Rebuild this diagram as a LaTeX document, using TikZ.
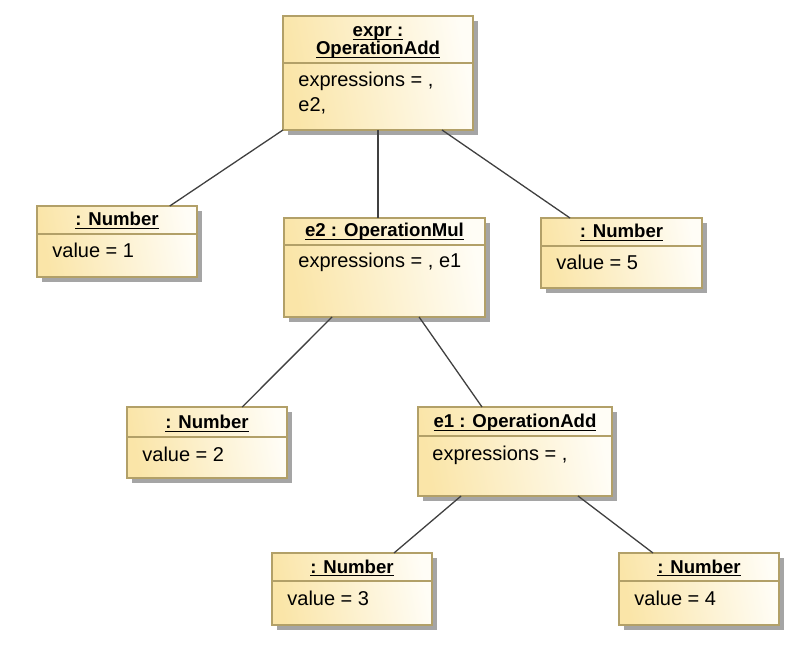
\documentclass[tikz,border=0pt]{standalone}
\usepackage{fontspec}
\setmainfont{Liberation Sans}
\usetikzlibrary{calc}

\definecolor{boxyellow}{RGB}{250,229,168}
\definecolor{boxwhite}{RGB}{255,253,246}
\definecolor{boxedge}{RGB}{178,160,104}
\definecolor{shadowgray}{RGB}{165,165,165}
\definecolor{linkgray}{RGB}{64,64,64}

\tikzset{
  objbox/.style={draw=boxedge, line width=0.6pt, left color=boxyellow,
    right color=boxwhite, shading angle=100, inner sep=0pt, outer sep=0pt},
  objshadow/.style={fill=shadowgray},
  divider/.style={draw=boxedge, line width=0.6pt},
  objtitle/.style={anchor=base, inner sep=0pt,
    font=\fontsize{9.3}{11}\selectfont\bfseries},
  objattr/.style={anchor=base west, inner sep=0pt,
    font=\fontsize{10}{12}\selectfont},
  link/.style={draw=linkgray, line width=0.65pt},
}

% underlined object name, underline kept close to the baseline
\newcommand\ul[1]{\underline{\smash{#1}}}

% object box: name, left, top, right, bottom, divider y (pixel grid)
\newcommand\objbox[6]{%
  \fill[objshadow] (#2+5,#3+5) rectangle (#4+5,#5+5);
  \node[objbox, minimum width={(#4-#2)*0.5pt}, minimum height={(#5-#3)*0.5pt}]
    (#1) at ({(#2+#4)/2},{(#3+#5)/2}) {};
  \coordinate (#1d) at (0,#6);
  \draw[divider] (#1.west |- #1d) -- (#1.east |- #1d);
}

\begin{document}
\begin{tikzpicture}[x=0.5pt, y=-0.5pt]
\useasboundingbox (0,0) rectangle (803,646);

% boxes
\objbox{expr}{283}{16}{473}{130}{63}
\objbox{numA}{37}{206}{197}{277}{234}
\objbox{mul}{284}{218}{485}{317}{245}
\objbox{numE}{541}{218}{702}{288}{246}
\objbox{numB}{127}{407}{287}{478}{437}
\objbox{add}{418}{407}{612}{496}{436}
\objbox{numC}{272}{553}{432}{625}{581}
\objbox{numD}{619}{553}{779}{625}{581}

% object names
\node[objtitle] (exprT1) at ($(expr.north)+(0,21)$) {\ul{expr :}};
\node[objtitle] (exprT2) at ($(expr.north)+(0,39)$) {\ul{OperationAdd}};
\node[objtitle] (numAT) at ($(numA.center |- numAd)+(0,-8)$) {\ul{: Number}};
\node[objtitle] (mulT) at ($(mul.center |- muld)+(0,-8)$) {\ul{e2 : OperationMul}};
\node[objtitle] (numET) at ($(numE.center |- numEd)+(0,-8)$) {\ul{: Number}};
\node[objtitle] (numBT) at ($(numB.center |- numBd)+(0,-8)$) {\ul{: Number}};
\node[objtitle] (addT) at ($(add.center |- addd)+(0,-8)$) {\ul{e1 : OperationAdd}};
\node[objtitle] (numCT) at ($(numC.center |- numCd)+(0,-8)$) {\ul{: Number}};
\node[objtitle] (numDT) at ($(numD.center |- numDd)+(0,-8)$) {\ul{: Number}};

% slot values
\node[objattr] (exprA1) at ($(expr.west |- exprd)+(15,24)$) {expressions = ,};
\node[objattr] (exprA2) at ($(expr.west |- exprd)+(15,49)$) {e2,};
\node[objattr] (numAA) at ($(numA.west |- numAd)+(15,24)$) {value = 1};
\node[objattr] (mulA) at ($(mul.west |- muld)+(14,23)$) {expressions = , e1};
\node[objattr] (numEA) at ($(numE.west |- numEd)+(15,24)$) {value = 5};
\node[objattr] (numBA) at ($(numB.west |- numBd)+(15,24)$) {value = 2};
\node[objattr] (addA) at ($(add.west |- addd)+(14,24)$) {expressions = ,};
\node[objattr] (numCA) at ($(numC.west |- numCd)+(15,24)$) {value = 3};
\node[objattr] (numDA) at ($(numD.west |- numDd)+(15,24)$) {value = 4};

% links
\draw[link] (expr.south west) -- ($(numA.north west)!0.83!(numA.north east)$);
\draw[link] (expr.south) -- (expr.south |- mul.north);
\draw[link] ($(expr.south west)!0.837!(expr.south east)$) -- ($(numE.north west)!0.18!(numE.north east)$);
\draw[link] ($(mul.south west)!0.239!(mul.south east)$) -- ($(numB.north west)!0.72!(numB.north east)$);
\draw[link] ($(mul.south west)!0.672!(mul.south east)$) -- ($(add.north west)!0.33!(add.north east)$);
\draw[link] ($(add.south west)!0.222!(add.south east)$) -- ($(numC.north west)!0.7625!(numC.north east)$);
\draw[link] ($(add.south west)!0.825!(add.south east)$) -- ($(numD.north west)!0.2125!(numD.north east)$);
\end{tikzpicture}
\end{document}
